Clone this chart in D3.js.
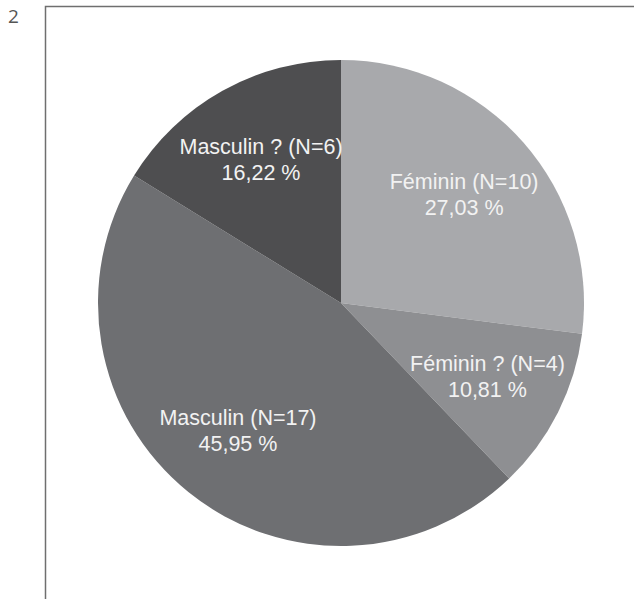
<!DOCTYPE html>
<html>
<head>
<meta charset="utf-8">
<script src="https://cdn.jsdelivr.net/npm/d3@7"></script>
<style>
  body { margin: 0; background: #fff; }
</style>
</head>
<body>
<script>
// data
var categories = ["Féminin (N=10)", "Féminin ? (N=4)", "Masculin (N=17)", "Masculin ? (N=6)"];
var counts = [10, 4, 17, 6];
var percentLabels = ["27,03 %", "10,81 %", "45,95 %", "16,22 %"];
var colors = ["#a8a9ac", "#8e8f92", "#6e6f72", "#4e4e50"];

var width = 634, height = 599;
var cx = 341, cy = 303, radius = 243;
var labelRadius = 164;

var svg = d3.select("body")
  .append("svg")
  .attr("width", width)
  .attr("height", height);

// figure number
svg.append("text")
  .attr("x", 8)
  .attr("y", 23)
  .attr("font-family", "Open Sans")
  .attr("font-size", 19)
  .attr("fill", "#555")
  .text("2");

// frame (open to the right and bottom)
svg.append("path")
  .attr("d", "M45.5," + height + "V6.5H" + width)
  .attr("fill", "none")
  .attr("stroke", "#6f6f6f")
  .attr("stroke-width", 1.5);

var slices = categories.map(function(c, i) {
  return { name: c, value: counts[i], pct: percentLabels[i], color: colors[i] };
});

var pie = d3.pie()
  .sort(null)
  .value(function(d) { return d.value; });

var arc = d3.arc()
  .innerRadius(0)
  .outerRadius(radius);

var g = svg.append("g")
  .attr("transform", "translate(" + cx + "," + cy + ")");

var arcs = pie(slices);

g.selectAll("path.slice")
  .data(arcs)
  .enter()
  .append("path")
  .attr("class", "slice")
  .attr("d", arc)
  .attr("fill", function(d) { return d.data.color; });

var labels = g.selectAll("text.lab")
  .data(arcs)
  .enter()
  .append("text")
  .attr("class", "lab")
  .attr("transform", function(d) {
    var a = (d.startAngle + d.endAngle) / 2;
    return "translate(" + (Math.sin(a) * labelRadius) + "," + (-Math.cos(a) * labelRadius) + ")";
  })
  .attr("text-anchor", "middle")
  .attr("font-family", "Liberation Sans, Arial, sans-serif")
  .attr("font-size", 21.5)
  .attr("fill", "#f2f2f2");

labels.append("tspan")
  .attr("x", 0)
  .attr("y", -6)
  .text(function(d) { return d.data.name; });

labels.append("tspan")
  .attr("x", 0)
  .attr("y", 20)
  .text(function(d) { return d.data.pct; });
</script>
</body>
</html>
